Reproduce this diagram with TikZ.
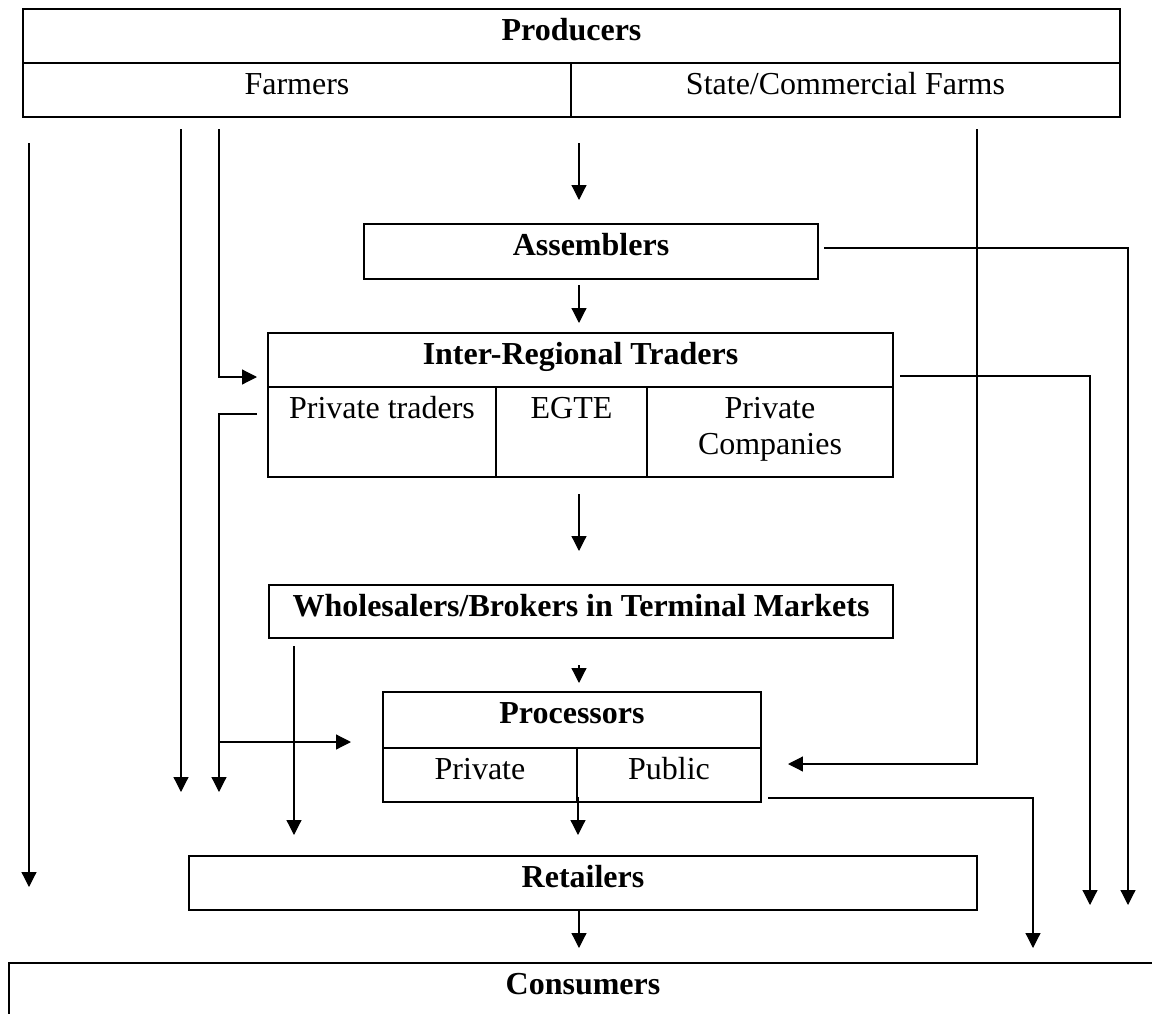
\documentclass[tikz,border=0pt]{standalone}
\usepackage{fontspec}
\setmainfont{Liberation Serif}
\usetikzlibrary{arrows.meta}
\tikzstyle{cell}=[draw,line width=0.7pt,inner sep=0pt,outer sep=0pt]
\tikzstyle{txt}=[anchor=base,inner sep=0pt,font=\fontsize{12}{13.8}\selectfont]
\tikzstyle{arr}=[draw,line width=0.45pt,-{Triangle[length=5.6pt,width=5.6pt]}]

\begin{document}
\begin{tikzpicture}[x=0.375pt,y=-0.375pt]
    \path[use as bounding box,clip] (0,0) rectangle (1152,1014);

    \foreach \name/\pos/\w/\h/\val in {{prod/(571.5,36)/1097/54/\textbf{Producers}},
    {farm/(297,90)/548/54/Farmers},{state/(845.5,90)/549/54/{State/Commercial Farms}},
    {asm/(591,251.5)/454/55/\textbf{Assemblers}},
    {irt/(580.5,360)/625/54/\textbf{Inter-Regional Traders}},
    {ptr/(382,432)/228/90/Private traders},{egte/(571.5,432)/151/90/EGTE},
    {pco/(770,432)/246/90/{\begin{tabular}[t]{@{}c@{}}Private\\Companies\end{tabular}}},
    {whs/(581,611.5)/624/53/\textbf{Wholesalers/Brokers in Terminal Markets}},
    {proc/(572,720)/378/56/\textbf{Processors}},
    {ppriv/(480,775)/194/54/Private},{ppub/(669,775)/184/54/Public},
    {ret/(583,883)/788/54/\textbf{Retailers}},
    {cons/(583,1016.5)/1148/107/\textbf{Consumers}}}
    {
        \node[cell,minimum width=\w*0.375pt,minimum height=\h*0.375pt] (\name) at \pos {};
        \node[txt] (\name-t) at ([yshift=-11.625pt]\name.north) {\val};
    }

    \foreach \x/\y/\name in {29/143/farmCons1,29/887/farmCons2,
    181/129/farmRet1,181/792/farmRet2,219/129/farmIrt1,257/377/farmIrt2,
    257/414/ptrOut1,219/792/ptrOut2,219/742/ptrProc1,351/742/ptrProc2,
    579/143/prodAsm1,579/200/prodAsm2,579/285/asmIrt1,579/323/asmIrt2,
    824/248/asmCons1,1128/905/asmCons2,900/376/irtCons1,1090/905/irtCons2,
    579/494/irtWhs1,579/551/irtWhs2,294/646/whsRet1,294/835/whsRet2,
    579/665/whsProc1,579/683/whsProc2,977/129/stProc1,788/764/stProc2,
    578/797/procRet1,578/835/procRet2,768/798/procCons1,1033/948/procCons2,
    579/911/retCons1,579/948/retCons2}
        \coordinate (\name) at (\x,\y);

    \foreach \lnk in {farmCons,farmRet,ptrProc,prodAsm,asmIrt,irtWhs,whsRet,whsProc,procRet,retCons}
        \path[arr] (\lnk1) -- (\lnk2);

    \path[arr] (farmIrt1) |- (farmIrt2);
    \path[arr] (ptrOut1) -| (ptrOut2);
    \path[arr] (asmCons1) -| (asmCons2);
    \path[arr] (irtCons1) -| (irtCons2);
    \path[arr] (stProc1) |- (stProc2);
    \path[arr] (procCons1) -| (procCons2);
\end{tikzpicture}
\end{document}
